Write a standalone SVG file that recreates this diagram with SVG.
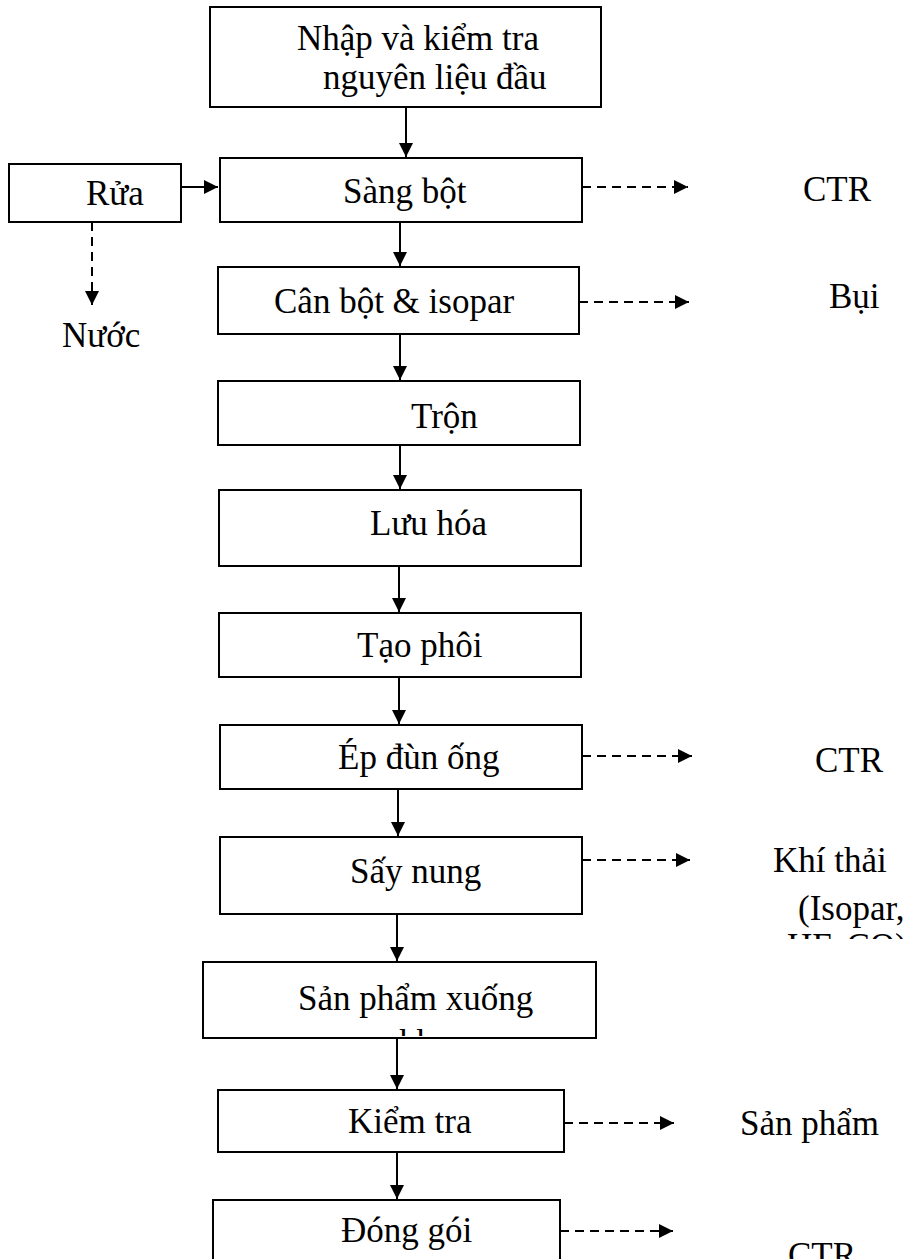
<svg xmlns="http://www.w3.org/2000/svg" width="907" height="1259" viewBox="0 0 907 1259">
  <style>
    .box { fill: #ffffff; stroke: #000000; stroke-width: 2; }
    .t { font-family: "Liberation Serif", "Times New Roman", serif; font-size: 35px; fill: #000000; }
    .flow { stroke: #000000; stroke-width: 2; fill: none; }
    .dash { stroke: #000000; stroke-width: 2; fill: none; stroke-dasharray: 9 6; }
  </style>
  <defs>
    <marker id="arrow" markerWidth="15" markerHeight="15" refX="14" refY="7.5" orient="auto" markerUnits="userSpaceOnUse">
      <path d="M0,0.5 L14,7.5 L0,14.5 Z" fill="#000000"/>
    </marker>
    <clipPath id="clipGas"><rect x="700" y="830" width="207" height="109"/></clipPath>
    <clipPath id="clipStore"><rect x="204" y="963" width="391" height="73"/></clipPath>
  </defs>

  <rect width="907" height="1259" fill="#ffffff"/>

  <!-- process steps -->
  <g id="n-nhap">
    <rect class="box" x="210" y="7" width="391" height="100"/>
    <text class="t" x="297" y="50">Nhập và kiểm tra</text>
    <text class="t" x="323" y="89">nguyên liệu đầu</text>
  </g>
  <g id="n-sang">
    <rect class="box" x="220" y="158" width="362" height="64"/>
    <text class="t" x="343" y="203">Sàng bột</text>
  </g>
  <g id="n-rua">
    <rect class="box" x="9" y="164" width="172" height="58"/>
    <text class="t" x="86" y="205">Rửa</text>
  </g>
  <g id="n-nuoc">
    <text class="t" x="62" y="347">Nước</text>
  </g>
  <g id="n-can">
    <rect class="box" x="218" y="267" width="361" height="67"/>
    <text class="t" x="274" y="313">Cân bột &amp; isopar</text>
  </g>
  <g id="n-tron">
    <rect class="box" x="218" y="381" width="362" height="64"/>
    <text class="t" x="411" y="428">Trộn</text>
  </g>
  <g id="n-luuhoa">
    <rect class="box" x="219" y="490" width="362" height="76"/>
    <text class="t" x="370" y="535">Lưu hóa</text>
  </g>
  <g id="n-taophoi">
    <rect class="box" x="219" y="613" width="362" height="64"/>
    <text class="t" x="357" y="657">Tạo phôi</text>
  </g>
  <g id="n-epdun">
    <rect class="box" x="220" y="725" width="362" height="64"/>
    <text class="t" x="338" y="769">Ép đùn ống</text>
  </g>
  <g id="n-say">
    <rect class="box" x="220" y="837" width="362" height="77"/>
    <text class="t" x="350" y="883">Sấy  nung</text>
  </g>
  <g id="n-xuongkho">
    <rect class="box" x="203" y="962" width="393" height="76"/>
    <g clip-path="url(#clipStore)">
      <text class="t" x="298" y="1010">Sản phẩm xuống</text>
      <text class="t" x="399" y="1054">kho</text>
    </g>
  </g>
  <g id="n-kiemtra">
    <rect class="box" x="218" y="1090" width="346" height="62"/>
    <text class="t" x="348" y="1133">Kiểm tra</text>
  </g>
  <g id="n-donggoi">
    <rect class="box" x="213" y="1200" width="347" height="70"/>
    <text class="t" x="341" y="1242">Đóng gói</text>
  </g>

  <!-- outputs -->
  <g id="o-ctr1"><text class="t" x="803" y="201">CTR</text></g>
  <g id="o-bui"><text class="t" x="829" y="308">Bụi</text></g>
  <g id="o-ctr2"><text class="t" x="815" y="772">CTR</text></g>
  <g id="o-khithai">
    <g clip-path="url(#clipGas)">
      <text class="t" x="773" y="872">Khí thải</text>
      <text class="t" x="798" y="920">(Isopar,</text>
      <text class="t" x="787" y="958">HF, CO)</text>
    </g>
  </g>
  <g id="o-sanpham"><text class="t" x="740" y="1135">Sản phẩm</text></g>
  <g id="o-ctr3"><text class="t" x="788" y="1267">CTR</text></g>

  <!-- connectors -->
  <g id="connectors">
    <line class="flow" x1="406" y1="107" x2="406" y2="157" marker-end="url(#arrow)"/>
    <line class="flow" x1="181" y1="187" x2="218" y2="187" marker-end="url(#arrow)"/>
    <line class="flow" x1="400" y1="222" x2="400" y2="266" marker-end="url(#arrow)"/>
    <line class="flow" x1="400" y1="334" x2="400" y2="380" marker-end="url(#arrow)"/>
    <line class="flow" x1="400" y1="445" x2="400" y2="489" marker-end="url(#arrow)"/>
    <line class="flow" x1="399" y1="566" x2="399" y2="612" marker-end="url(#arrow)"/>
    <line class="flow" x1="399" y1="677" x2="399" y2="724" marker-end="url(#arrow)"/>
    <line class="flow" x1="398" y1="789" x2="398" y2="836" marker-end="url(#arrow)"/>
    <line class="flow" x1="397" y1="914" x2="397" y2="961" marker-end="url(#arrow)"/>
    <line class="flow" x1="397" y1="1038" x2="397" y2="1089" marker-end="url(#arrow)"/>
    <line class="flow" x1="397" y1="1152" x2="397" y2="1199" marker-end="url(#arrow)"/>

    <line class="dash" x1="92" y1="222" x2="92" y2="305" marker-end="url(#arrow)"/>
    <line class="dash" x1="582" y1="187" x2="688" y2="187" marker-end="url(#arrow)"/>
    <line class="dash" x1="579" y1="302" x2="689" y2="302" marker-end="url(#arrow)"/>
    <line class="dash" x1="582" y1="756" x2="692" y2="756" marker-end="url(#arrow)"/>
    <line class="dash" x1="582" y1="860" x2="690" y2="860" marker-end="url(#arrow)"/>
    <line class="dash" x1="564" y1="1123" x2="674" y2="1123" marker-end="url(#arrow)"/>
    <line class="dash" x1="560" y1="1231" x2="673" y2="1231" marker-end="url(#arrow)"/>
  </g>
</svg>
